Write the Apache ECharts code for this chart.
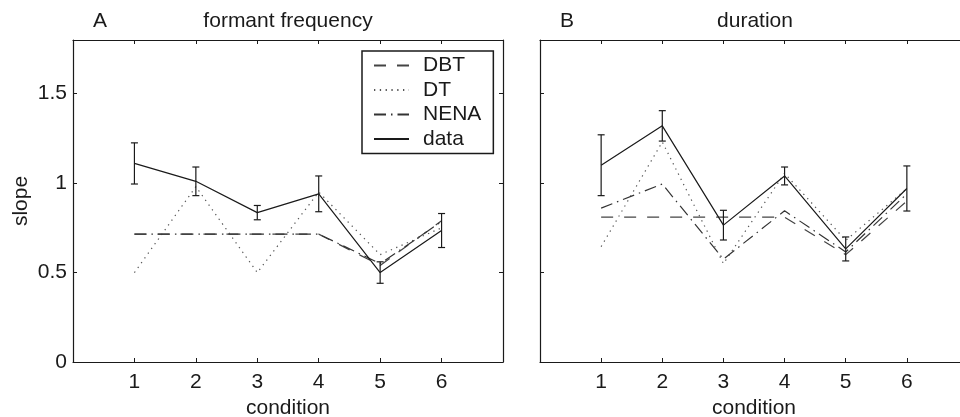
<!DOCTYPE html>
<html>
<head>
<meta charset="utf-8">
<script src="https://cdn.jsdelivr.net/npm/echarts@6/dist/echarts.min.js"></script>
<style>
  html, body { margin: 0; padding: 0; background: #fff; }
  #chart { width: 960px; height: 417px; }
</style>
</head>
<body>
<div id="chart"></div>
<script>
const conditions = [1, 2, 3, 4, 5, 6]
const yTicks = [0, 0.5, 1, 1.5]

// A: formant frequency
const freqDBT = [0.715, 0.715, 0.715, 0.715, 0.54, 0.79]
const freqDT = [0.5, 0.98, 0.5, 0.95, 0.6, 0.75]
const freqNENA = [0.715, 0.715, 0.715, 0.715, 0.55, 0.785]
const freqData = [1.11, 1.01, 0.835, 0.94, 0.5, 0.735]
const freqErr = [0.115, 0.08, 0.04, 0.1, 0.06, 0.095]

// B: duration
const durDBT = [0.81, 0.81, 0.81, 0.81, 0.6, 0.9]
const durDT = [0.645, 1.23, 0.55, 1.055, 0.68, 0.97]
const durNENA = [0.86, 0.995, 0.575, 0.845, 0.615, 0.94]
const durData = [1.1, 1.32, 0.765, 1.04, 0.632, 0.97]
const durErr = [0.17, 0.085, 0.083, 0.05, 0.067, 0.126]

const font = 'Liberation Sans, Arial, sans-serif'
const ink = '#1a1a1a'

const styles = {
  DBT: { type: [12, 11], color: '#444', width: 1.2 },
  DT: { type: [1.3, 4.5], color: '#555', width: 1.2 },
  NENA: { type: [12, 5, 1.5, 5], color: '#333', width: 1.2 },
  data: { type: 'solid', color: ink, width: 1.2 }
}

const pairs = vals => vals.map((v, i) => [conditions[i], v])

function lineSeries(name, vals, gi) {
  return {
    name: name,
    type: 'line',
    xAxisIndex: gi * 2,
    yAxisIndex: gi * 2,
    data: pairs(vals),
    symbol: 'none',
    lineStyle: styles[name],
    itemStyle: { color: styles[name].color },
    z: name === 'data' ? 5 : 3,
    animation: false
  }
}

function errSeries(vals, errs, gi) {
  return {
    type: 'custom',
    xAxisIndex: gi * 2,
    yAxisIndex: gi * 2,
    data: vals.map((v, i) => [conditions[i], v, errs[i]]),
    renderItem: function (params, api) {
      const x = api.value(0), y = api.value(1), e = api.value(2)
      const hi = api.coord([x, y + e])
      const lo = api.coord([x, y - e])
      const st = { stroke: ink, lineWidth: 1.2 }
      return {
        type: 'group',
        children: [
          { type: 'line', shape: { x1: hi[0], y1: hi[1], x2: lo[0], y2: lo[1] }, style: st },
          { type: 'line', shape: { x1: hi[0] - 3.5, y1: hi[1], x2: hi[0] + 3.5, y2: hi[1] }, style: st },
          { type: 'line', shape: { x1: lo[0] - 3.5, y1: lo[1], x2: lo[0] + 3.5, y2: lo[1] }, style: st }
        ]
      }
    },
    z: 6,
    animation: false
  }
}

// panel B runs past the right edge of the picture, as in the original
const grids = [
  { left: 73, top: 40, width: 430, height: 322, outerBoundsMode: 'none' },
  { left: 540, top: 40, width: 428, height: 322, outerBoundsMode: 'none' }
]

const axLine = { show: true, onZero: false, lineStyle: { color: ink, width: 1.2 } }
const axTick = { show: true, inside: true, length: 4, lineStyle: { color: ink, width: 1 } }

const xAxes = []
const yAxes = []
grids.forEach((g, gi) => {
  xAxes.push({
    type: 'value', gridIndex: gi, position: 'bottom', min: 0, max: 7, interval: 1,
    name: 'condition', nameLocation: 'middle', nameGap: 33,
    nameTextStyle: { fontFamily: font, fontSize: 21, color: ink },
    axisLine: axLine, axisTick: axTick, splitLine: { show: false },
    axisLabel: {
      fontFamily: font, fontSize: 21, color: ink, margin: 10,
      formatter: v => conditions.includes(v) ? String(v) : ''
    }
  })
  xAxes.push({
    type: 'value', gridIndex: gi, position: 'top', min: 0, max: 7, interval: 1,
    axisLine: axLine, axisTick: axTick, splitLine: { show: false },
    axisLabel: { show: false }
  })
  yAxes.push({
    type: 'value', gridIndex: gi, position: 'left', min: 0, max: 1.8, interval: 0.5,
    name: gi === 0 ? 'slope' : '', nameLocation: 'middle', nameGap: 41,
    nameTextStyle: { fontFamily: font, fontSize: 21, color: ink },
    axisLine: axLine, axisTick: axTick, splitLine: { show: false },
    axisLabel: {
      show: gi === 0, fontFamily: font, fontSize: 21, color: ink, margin: 6,
      formatter: v => yTicks.includes(v) ? String(v) : ''
    }
  })
  yAxes.push({
    type: 'value', gridIndex: gi, position: 'right', min: 0, max: 1.8, interval: 0.5,
    axisLine: axLine, axisTick: axTick, splitLine: { show: false },
    axisLabel: { show: false }
  })
})

const titleText = { fontFamily: font, fontSize: 21, fontWeight: 'normal', color: ink, lineHeight: 21 }

const chart = echarts.init(document.getElementById('chart'))
chart.setOption({
  backgroundColor: '#fff',
  animation: false,
  title: [
    { text: 'A', left: 93, top: 11, padding: 0, textStyle: titleText },
    { text: 'formant frequency', left: 288, top: 11, padding: 0, textAlign: 'center', textStyle: titleText },
    { text: 'B', left: 560, top: 11, padding: 0, textStyle: titleText },
    { text: 'duration', left: 755, top: 11, padding: 0, textAlign: 'center', textStyle: titleText }
  ],
  legend: {
    data: ['DBT', 'DT', 'NENA', 'data'],
    orient: 'vertical',
    left: 362,
    top: 51,
    padding: [4, 12, 4, 11],
    itemWidth: 35,
    itemHeight: 14,
    itemGap: 3.5,
    itemStyle: { opacity: 0 },
    textStyle: { fontFamily: font, fontSize: 21, color: ink, lineHeight: 21, padding: [0, 0, 0, 9] },
    borderColor: ink,
    borderWidth: 1.5,
    backgroundColor: '#fff',
    selectedMode: false
  },
  grid: grids,
  xAxis: xAxes,
  yAxis: yAxes,
  series: [
    lineSeries('DBT', freqDBT, 0),
    lineSeries('DT', freqDT, 0),
    lineSeries('NENA', freqNENA, 0),
    lineSeries('data', freqData, 0),
    errSeries(freqData, freqErr, 0),
    lineSeries('DBT', durDBT, 1),
    lineSeries('DT', durDT, 1),
    lineSeries('NENA', durNENA, 1),
    lineSeries('data', durData, 1),
    errSeries(durData, durErr, 1)
  ]
})
</script>
</body>
</html>
